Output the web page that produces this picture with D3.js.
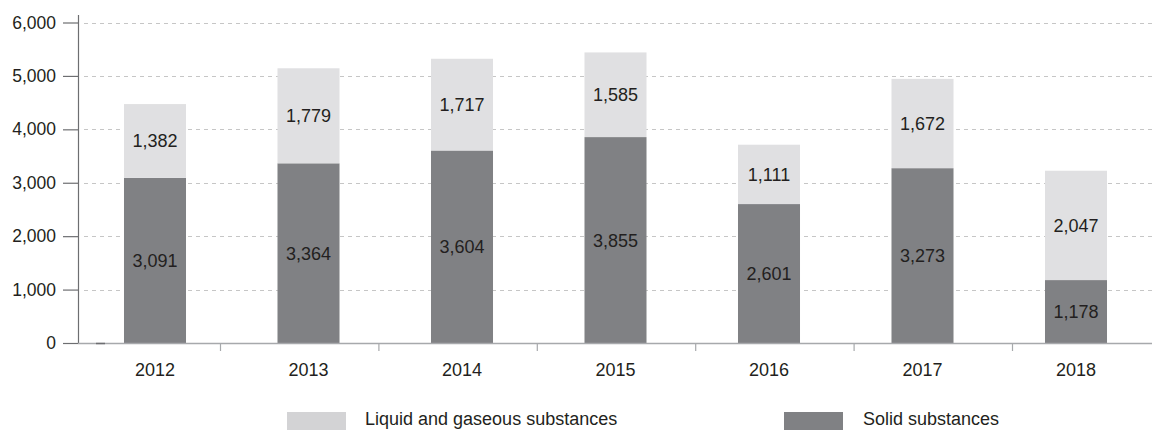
<!DOCTYPE html>
<html>
<head>
<meta charset="utf-8">
<script src="https://cdn.jsdelivr.net/npm/d3@7"></script>
<style>
  html, body { margin: 0; padding: 0; background: #fff; }
  svg { display: block; font-family: "Liberation Sans", Arial, Helvetica, sans-serif; }
</style>
</head>
<body>
<svg id="chart" width="1152" height="430"></svg>
<script>
const years = ["2012", "2013", "2014", "2015", "2016", "2017", "2018"];
const solid = [3091, 3364, 3604, 3855, 2601, 3273, 1178];
const liquid = [1382, 1779, 1717, 1585, 1111, 1672, 2047];
const yTicks = [0, 1000, 2000, 3000, 4000, 5000, 6000];
const seriesNames = ["Liquid and gaseous substances", "Solid substances"];
const seriesColors = ["#e0e0e2", "#808184"];
const legendColors = ["#d3d3d5", "#808184"];

const svg = d3.select("#chart");
const textColor = "#231f20";
const fmt = d3.format(",");

const y = d3.scaleLinear().domain([0, 6000]).range([343, 22.5]);
const x = d3.scaleBand().domain(years).range([78.25, 1152.75])
  .paddingInner(0.596).paddingOuter(0.298);
const tickX = d3.scaleLinear().domain([1, 6]).range([220, 1012]);

// gridlines
svg.append("g").selectAll("line").data(yTicks.filter(d => d > 0)).join("line")
  .attr("x1", 84).attr("x2", 1152)
  .attr("y1", d => Math.round(y(d)) + 0.5).attr("y2", d => Math.round(y(d)) + 0.5)
  .attr("stroke", "#c6c6c6").attr("stroke-width", 1.2)
  .attr("stroke-dasharray", "4,4");

// bars
const data = years.map((yr, i) => ({ yr, solid: solid[i], liquid: liquid[i] }));
const stack = d3.stack().keys(["solid", "liquid"])(data);
const colorByKey = { solid: seriesColors[1], liquid: seriesColors[0] };

stack.forEach(layer => {
  svg.append("g").selectAll("rect").data(layer).join("rect")
    .attr("x", d => x(d.data.yr))
    .attr("width", x.bandwidth())
    .attr("y", d => y(d[1]))
    .attr("height", d => y(d[0]) - y(d[1]))
    .attr("fill", colorByKey[layer.key]);
});

// value labels
stack.forEach(layer => {
  svg.append("g").selectAll("text").data(layer).join("text")
    .attr("x", d => x(d.data.yr) + x.bandwidth() / 2)
    .attr("y", d => (y(d[0]) + y(d[1])) / 2)
    .attr("dy", "0.36em")
    .attr("text-anchor", "middle")
    .attr("font-size", 18)
    .attr("fill", textColor)
    .text(d => fmt(d[1] - d[0]));
});

// y axis
const yAxis = d3.axisLeft(y).tickValues(yTicks).tickFormat(fmt).tickSize(15).tickPadding(7);
const gy = svg.append("g").attr("transform", "translate(78,0)").call(yAxis);
gy.select(".domain").remove();
gy.selectAll(".tick line").attr("stroke", "#6d6e71").attr("stroke-width", 1.2);
gy.selectAll(".tick text").attr("font-size", 17.5).attr("fill", textColor)
  .attr("font-family", "Liberation Sans, Arial, sans-serif");
svg.append("line").attr("x1", 78.5).attr("x2", 78.5).attr("y1", 15).attr("y2", 343)
  .attr("stroke", "#6d6e71").attr("stroke-width", 1.2);

// x baseline
svg.append("line").attr("x1", 78).attr("x2", 1152).attr("y1", 343.5).attr("y2", 343.5)
  .attr("stroke", "#a7a9ac").attr("stroke-width", 1.5);
svg.append("line").attr("x1", 96).attr("x2", 105).attr("y1", 343.5).attr("y2", 343.5)
  .attr("stroke", "#6d6e71").attr("stroke-width", 1.5);

// x ticks
svg.append("g").selectAll("line").data(d3.range(1, 7)).join("line")
  .attr("x1", d => tickX(d) + 0.5).attr("x2", d => tickX(d) + 0.5)
  .attr("y1", 344).attr("y2", 351)
  .attr("stroke", "#a7a9ac").attr("stroke-width", 1.2);

// x labels
svg.append("g").selectAll("text").data(years).join("text")
  .attr("x", d => x(d) + x.bandwidth() / 2)
  .attr("y", 376)
  .attr("text-anchor", "middle")
  .attr("font-size", 18)
  .attr("fill", textColor)
  .text(d => d);

// legend
const legendItems = [
  { name: seriesNames[0], color: legendColors[0], sx: 287, tx: 365 },
  { name: seriesNames[1], color: legendColors[1], sx: 784, tx: 863 }
];
const lg = svg.append("g");
lg.selectAll("rect").data(legendItems).join("rect")
  .attr("x", d => d.sx).attr("y", 412).attr("width", 59).attr("height", 18)
  .attr("fill", d => d.color);
lg.selectAll("text").data(legendItems).join("text")
  .attr("x", d => d.tx).attr("y", 425)
  .attr("font-size", 18)
  .attr("fill", textColor)
  .text(d => d.name);
</script>
</body>
</html>
